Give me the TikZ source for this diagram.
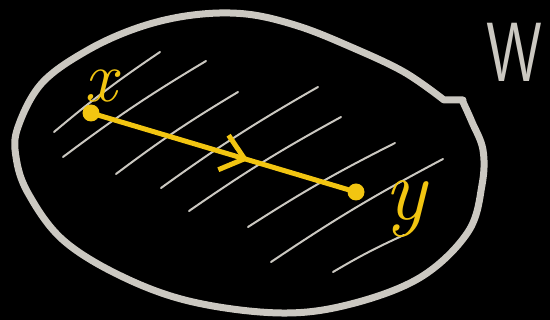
\documentclass[tikz,border=0pt]{standalone}
\usepackage{fontspec}
\usepackage{tikz}
\usetikzlibrary{arrows.meta,decorations.markings}
\definecolor{BBoard}{HTML}{000000}
\definecolor{BChalk}{HTML}{CBC8C1}
\definecolor{BGold}{HTML}{F2C511}

\begin{document}
\begin{tikzpicture}[x=1pt, y=-1pt,
  outline/.style={draw=BChalk, line width=7pt, line cap=round, line join=round},
  hatch/.style={draw=BChalk, line width=2pt, line cap=round},
  dot/.style={circle, fill=BGold, inner sep=0pt, minimum size=17pt},
  segment/.style={draw=BGold, line width=5pt, line cap=round, postaction={decorate},
    decoration={markings, mark=at position 0.6 with
      {\arrow{Straight Barb[length=22pt, width=36pt, line width=5pt]}}}},
  hand/.style={inner sep=0pt, text=BGold}]
\useasboundingbox (0,0) rectangle (550,320);
\clip (0,0) rectangle (550,320);
\fill[BBoard] (0,0) rectangle (550,320);
\foreach \xa/\ya/\xb/\yb in {54/132/160/52, 63/157/206/61, 116/174/238/92, 161/188/318/87,
                   189/211/341/117, 248/227/395/143, 271/262/443/159, 333/272/404/235}
  {\draw[hatch] (\xa,\ya) to[bend left=3] (\xb,\yb);}
\draw[outline] plot[smooth, tension=0.6] coordinates {(463,102) (472,122) (483,150)
  (482,185) (468,232) (421,277) (351,304) (281,313) (193,302) (123,277) (63,240)
  (28,193) (16,157) (18,127) (42,83) (88,50) (140,27) (193,15) (246,14) (298,26)
  (351,47) (404,72) (444,100)} -- (463,100);
\node[dot] (px) at (91,113) {};
\node[dot] (py) at (356,192) {};
\draw[segment] (px) -- (py);
\node[hand, anchor=base, font=\fontsize{72}{72}\selectfont\itshape] (lx) at (101,102) {x};
\node[hand, anchor=base, font=\fontsize{88}{88}\selectfont\itshape] (ly) at (405,220) {y};
\node[hand, anchor=base west, xscale=0.75, text=BChalk,
      font=\fontsize{84}{84}\selectfont\sffamily] (lw) at (486,82) {W};
\end{tikzpicture}
\end{document}
